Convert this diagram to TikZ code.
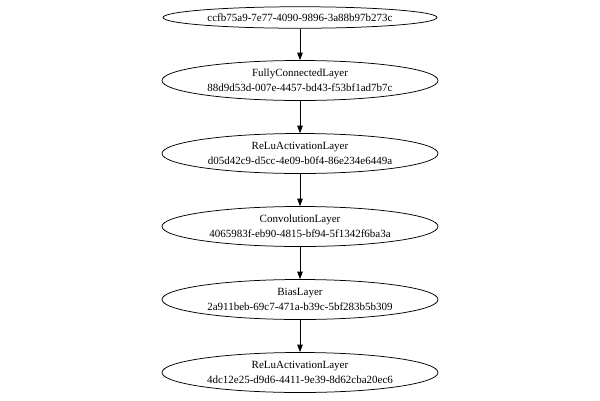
\documentclass[tikz,border=0pt]{standalone}
\usepackage{fontspec}
\setmainfont{Liberation Serif}
\usetikzlibrary{arrows.meta,shapes.geometric}
\begin{document}
\begin{tikzpicture}[x=1pt,y=-1pt,
  layer/.style={ellipse,draw,line width=0.75pt,inner sep=0pt,minimum width=276pt,minimum height=40pt,align=center,font=\fontsize{11}{15}\selectfont},
  toplayer/.style={layer,minimum width=274pt,minimum height=21.5pt},
  link/.style={draw,line width=0.75pt,-{Triangle[length=7.5pt,width=5.5pt]}}]
\useasboundingbox (0,0) rectangle (600,400);
\node[toplayer] (n0) at (300,17.5) {ccfb75a9-7e77-4090-9896-3a88b97b273c};
\node[layer] (n1) at (300,80.5) {FullyConnectedLayer\\88d9d53d-007e-4457-bd43-f53bf1ad7b7c};
\node[layer] (n2) at (300,153.5) {ReLuActivationLayer\\d05d42c9-d5cc-4e09-b0f4-86e234e6449a};
\node[layer] (n3) at (300,226.5) {ConvolutionLayer\\4065983f-eb90-4815-bf94-5f1342f6ba3a};
\node[layer] (n4) at (300,299.5) {BiasLayer\\2a911beb-69c7-471a-b39c-5bf283b5b309};
\node[layer] (n5) at (300,372.5) {ReLuActivationLayer\\4dc12e25-d9d6-4411-9e39-8d62cba20ec6};
\draw[link] (n0) -- (n1);
\draw[link] (n1) -- (n2);
\draw[link] (n2) -- (n3);
\draw[link] (n3) -- (n4);
\draw[link] (n4) -- (n5);
\end{tikzpicture}
\end{document}
